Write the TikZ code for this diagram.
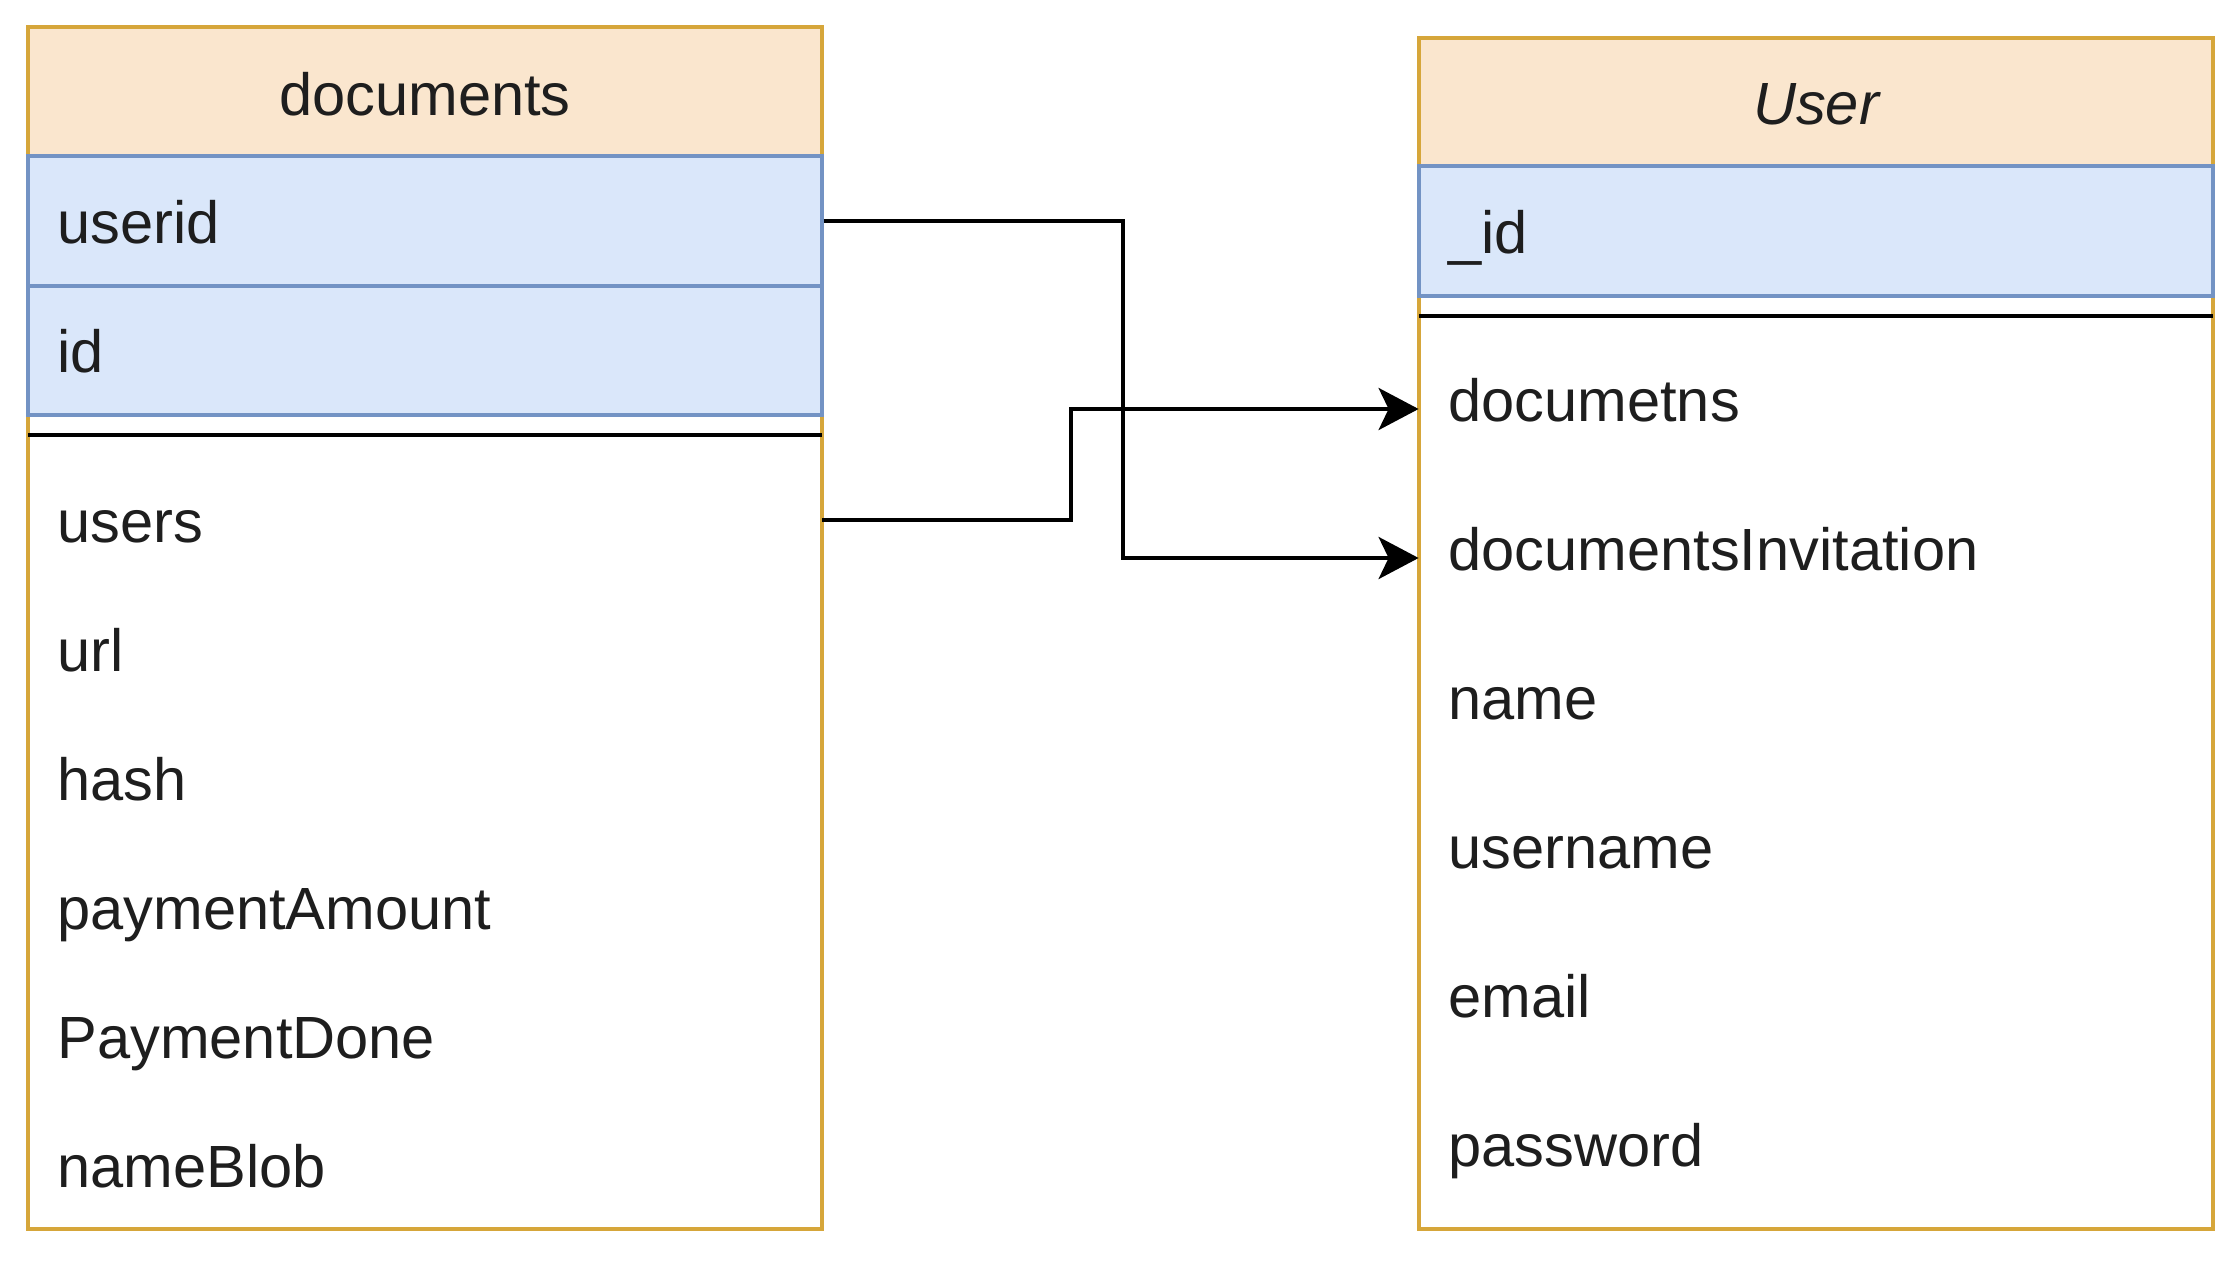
\documentclass[tikz,border=0pt]{standalone}
\usepackage{fontspec}
\setmainfont{Liberation Sans}
\usetikzlibrary{fit,arrows.meta}
\definecolor{gold}{HTML}{D6A63A}
\definecolor{hdrfill}{HTML}{FAE6CE}
\definecolor{bluefill}{HTML}{DAE7FA}
\definecolor{bluedraw}{HTML}{7393C4}
\definecolor{txt}{HTML}{1E1E1E}
\begin{document}
\begin{tikzpicture}[x=0.5pt,y=-0.5pt,
  tablebox/.style={draw=gold,fill=white,line width=1.6pt},
  hdr/.style={draw=gold,fill=hdrfill,line width=1.6pt,inner sep=0pt},
  keyrow/.style={draw=bluedraw,fill=bluefill,line width=1.6pt,inner sep=0pt},
  plainrow/.style={inner sep=0pt},
  lbl/.style={anchor=base west,inner sep=0pt,text=txt,font=\fontsize{29.8pt}{36pt}\selectfont},
  hlbl/.style={anchor=base,inner sep=0pt,text=txt,font=\fontsize{29.8pt}{36pt}\selectfont},
  sepline/.style={draw=black,line width=2pt},
  conn/.style={draw=black,line width=2pt,-{Stealth[length=20pt,width=21pt,inset=5pt]}},
  link/.style={draw=black,line width=2pt}]
\useasboundingbox (0,0) rectangle (2230,1284);

% ---------- documents table ----------
\node[fit={(28,27)(822,1229)},tablebox,inner sep=0pt] (doctab) {};
\node[fit={(28,27)(822,156)},hdr] (dochead) {};
\node[hlbl] (tdochead) at (425,115) {documents};
\node[fit={(28,156)(822,286)},keyrow] (userid) {};
\node[lbl] (tuserid) at (57,243) {userid};
\node[fit={(28,286)(822,415)},keyrow] (idrow) {};
\node[lbl] (tid) at (57,372) {id};
\draw[sepline] (28,435) -- (822,435);
\node[fit={(28,456)(822,584)},plainrow] (users) {};
\node[lbl] (tusers) at (57,542) {users};
\node[lbl] (turl) at (57,671) {url};
\node[lbl] (thash) at (57,800) {hash};
\node[lbl] (tpay) at (57,929) {paymentAmount};
\node[lbl] (tpdone) at (57,1058) {PaymentDone};
\node[lbl] (tblob) at (57,1187) {nameBlob};

% ---------- User table ----------
\node[fit={(1419,38)(2213,1229)},tablebox,inner sep=0pt] (usertab) {};
\node[fit={(1419,38)(2213,166)},hdr] (userhead) {};
\node[hlbl,font=\fontsize{29.8pt}{36pt}\selectfont\itshape] (tuserhead) at (1816,125) {User};
\node[fit={(1419,166)(2213,296)},keyrow] (uid) {};
\node[lbl] (tuid) at (1448,253) {\_id};
\draw[sepline] (1419,316) -- (2213,316);
\node[fit={(1419,335)(2213,483)},plainrow] (dct) {};
\node[lbl] (tdct) at (1448,421) {documetns};
\node[fit={(1419,484)(2213,632)},plainrow] (dinv) {};
\node[lbl] (tdinv) at (1448,570) {documentsInvitation};
\node[lbl] (tname) at (1448,719) {name};
\node[lbl] (tuname) at (1448,868) {username};
\node[lbl] (temail) at (1448,1017) {email};
\node[lbl] (tpw) at (1448,1166) {password};

% ---------- connectors ----------
\draw[conn] (userid.east) -- ([xshift=149.5pt]userid.east) |- (dinv.west);
\draw[conn] (users.east) -- ([xshift=124.5pt]users.east) |- (dct.west);
\end{tikzpicture}
\end{document}
